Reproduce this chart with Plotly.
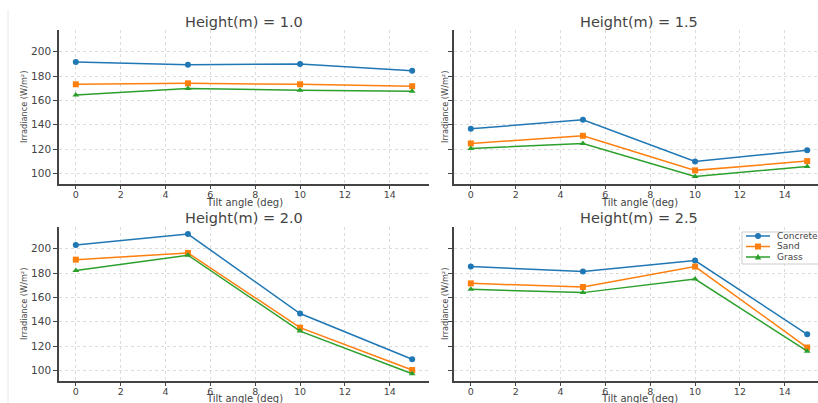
import plotly.graph_objects as go

tilt = [0, 5, 10, 15]
heights = ["1.0", "1.5", "2.0", "2.5"]

concrete = {
    "1.0": [191.5, 189.3, 189.9, 184.4],
    "1.5": [136.6, 144.0, 109.8, 119.1],
    "2.0": [203.0, 212.0, 146.7, 109.2],
    "2.5": [185.3, 181.3, 190.2, 129.6],
}
sand = {
    "1.0": [173.2, 174.0, 173.2, 171.6],
    "1.5": [124.6, 130.9, 102.5, 110.1],
    "2.0": [191.0, 196.5, 135.1, 100.3],
    "2.5": [171.5, 168.5, 185.3, 118.8],
}
grass = {
    "1.0": [164.5, 169.7, 168.3, 167.5],
    "1.5": [120.5, 124.6, 97.5, 105.7],
    "2.0": [182.1, 194.6, 132.3, 97.3],
    "2.5": [166.6, 163.9, 175.0, 115.8],
}
series = [
    ("Concrete", concrete, "#1f77b4", "circle"),
    ("Sand", sand, "#ff7f0e", "square"),
    ("Grass", grass, "#2ca02c", "triangle-up"),
]

W, H = 818, 403
ML, MR, MT, MB = 59, 0, 30, 22
PW = W - ML - MR
PH = H - MT - MB


def px_x(p):
    return (p - ML) / PW


def px_y(p):
    return (H - MB - p) / PH


x_dom = [[px_x(59), px_x(429)], [px_x(454), 1.0]]
y_dom = [[px_y(184), 1.0], [0.0, px_y(227)]]

fig = go.Figure()

xtick_font = dict(family="DejaVu Sans", size=9.5, color="#444")
ytick_font = dict(family="DejaVu Sans", size=10.5, color="#444")

for i, h in enumerate(heights):
    row, col = divmod(i, 2)
    xa = "x" if i == 0 else f"x{i+1}"
    ya = "y" if i == 0 else f"y{i+1}"
    for name, data, color, sym in series:
        fig.add_trace(go.Scatter(
            x=tilt, y=data[h], mode="lines+markers", name=name,
            line=dict(color=color, width=1.5),
            marker=dict(color=color, symbol=sym, size=6),
            xaxis=xa, yaxis=ya, showlegend=False,
            cliponaxis=False,
        ))
    xkey = "xaxis" if i == 0 else f"xaxis{i+1}"
    ykey = "yaxis" if i == 0 else f"yaxis{i+1}"
    xr = [-0.75, 15.75] if col == 0 else [-0.75, 15.75 - 6 / 22.4]
    fig.update_layout(**{
        xkey: dict(
            domain=x_dom[col], anchor=ya, range=xr, automargin=False,
            tickvals=[0, 2, 4, 6, 8, 10, 12, 14], ticks="outside", ticklen=3,
            ticklabelstandoff=-2,
            tickcolor="#444", showline=True, linecolor="#444", linewidth=1.5,
            showgrid=True, gridcolor="#dcdcdc", griddash="dot", gridwidth=1,
            zeroline=False, tickfont=xtick_font,
        ),
        ykey: dict(
            domain=y_dom[row], anchor=xa, range=[91.3, 217.8], automargin=False,
            tickvals=[100, 120, 140, 160, 180, 200], ticks="outside", ticklen=4,
            tickcolor="#444", showline=True, linecolor="#444", linewidth=1.5,
            showgrid=True, gridcolor="#dcdcdc", griddash="dot", gridwidth=1,
            zeroline=False, tickfont=ytick_font, showticklabels=(col == 0),
        ),
    })

panel_cx = [244, 639]
panel_cy = [107, 304]
title_cy = [22, 218]
xlabel_cy = [203, 398]
ylabel_cx = [24, 445]
annotations = []
for i, h in enumerate(heights):
    row, col = divmod(i, 2)
    annotations.append(dict(
        text=f"Height(m) = {h}", xref="paper", yref="paper",
        x=px_x(panel_cx[col]), y=px_y(title_cy[row]),
        xanchor="center", yanchor="middle", showarrow=False,
        font=dict(family="DejaVu Sans", size=14.5, color="#444"),
    ))
    annotations.append(dict(
        text="Tilt angle (deg)", xref="paper", yref="paper",
        x=px_x(panel_cx[col]), y=px_y(xlabel_cy[row]),
        xanchor="center", yanchor="middle", showarrow=False,
        font=dict(family="DejaVu Sans", size=10, color="#444"),
    ))
    annotations.append(dict(
        text="Irradiance (W/m²)", xref="paper", yref="paper",
        x=px_x(ylabel_cx[col]), y=px_y(panel_cy[row]), textangle=-90,
        xanchor="center", yanchor="middle", showarrow=False,
        font=dict(family="DejaVu Sans", size=8.2, color="#444"),
    ))

# compact matplotlib-style legend box in the last panel
shapes = [
    dict(type="line", xref="paper", yref="paper",
         x0=px_x(8), x1=px_x(8), y0=px_y(10), y1=px_y(403),
         line=dict(color="#e6e6e6", width=1)),
    dict(type="rect", xref="paper", yref="paper",
         x0=px_x(742), x1=px_x(830), y0=px_y(232), y1=px_y(264),
         line=dict(color="#cccccc", width=1), fillcolor="white", layer="above"),
]
leg_y = [236, 246.5, 257]
for k, (name, data, color, sym) in enumerate(series):
    yy = leg_y[k]
    shapes.append(dict(type="line", xref="paper", yref="paper",
                       x0=px_x(746), x1=px_x(770), y0=px_y(yy), y1=px_y(yy),
                       line=dict(color=color, width=1.5), layer="above"))
    cx, cy = 758, yy
    if sym == "circle":
        shapes.append(dict(type="circle", xref="paper", yref="paper",
                           x0=px_x(cx - 3), x1=px_x(cx + 3), y0=px_y(cy + 3), y1=px_y(cy - 3),
                           line=dict(width=0), fillcolor=color, layer="above"))
    elif sym == "square":
        shapes.append(dict(type="rect", xref="paper", yref="paper",
                           x0=px_x(cx - 3), x1=px_x(cx + 3), y0=px_y(cy + 3), y1=px_y(cy - 3),
                           line=dict(width=0), fillcolor=color, layer="above"))
    else:
        p = "M {} {} L {} {} L {} {} Z".format(
            px_x(cx - 3.2), px_y(cy + 2.6), px_x(cx + 3.2), px_y(cy + 2.6),
            px_x(cx), px_y(cy - 3.2))
        shapes.append(dict(type="path", xref="paper", yref="paper", path=p,
                           line=dict(width=0), fillcolor=color, layer="above"))
    annotations.append(dict(
        text=name, xref="paper", yref="paper",
        x=px_x(775), y=px_y(yy), xanchor="left", yanchor="middle",
        showarrow=False, font=dict(family="DejaVu Sans", size=9, color="#444"),
    ))

fig.update_layout(
    width=W, height=H,
    margin=dict(l=ML, r=MR, t=MT, b=MB),
    paper_bgcolor="white", plot_bgcolor="white",
    annotations=annotations,
    showlegend=False,
    shapes=shapes,
)

fig.write_html(
    "out.html",
    config={"displayModeBar": False},
    post_script="document.body.style.margin='0px';document.body.style.padding='0px';",
)
